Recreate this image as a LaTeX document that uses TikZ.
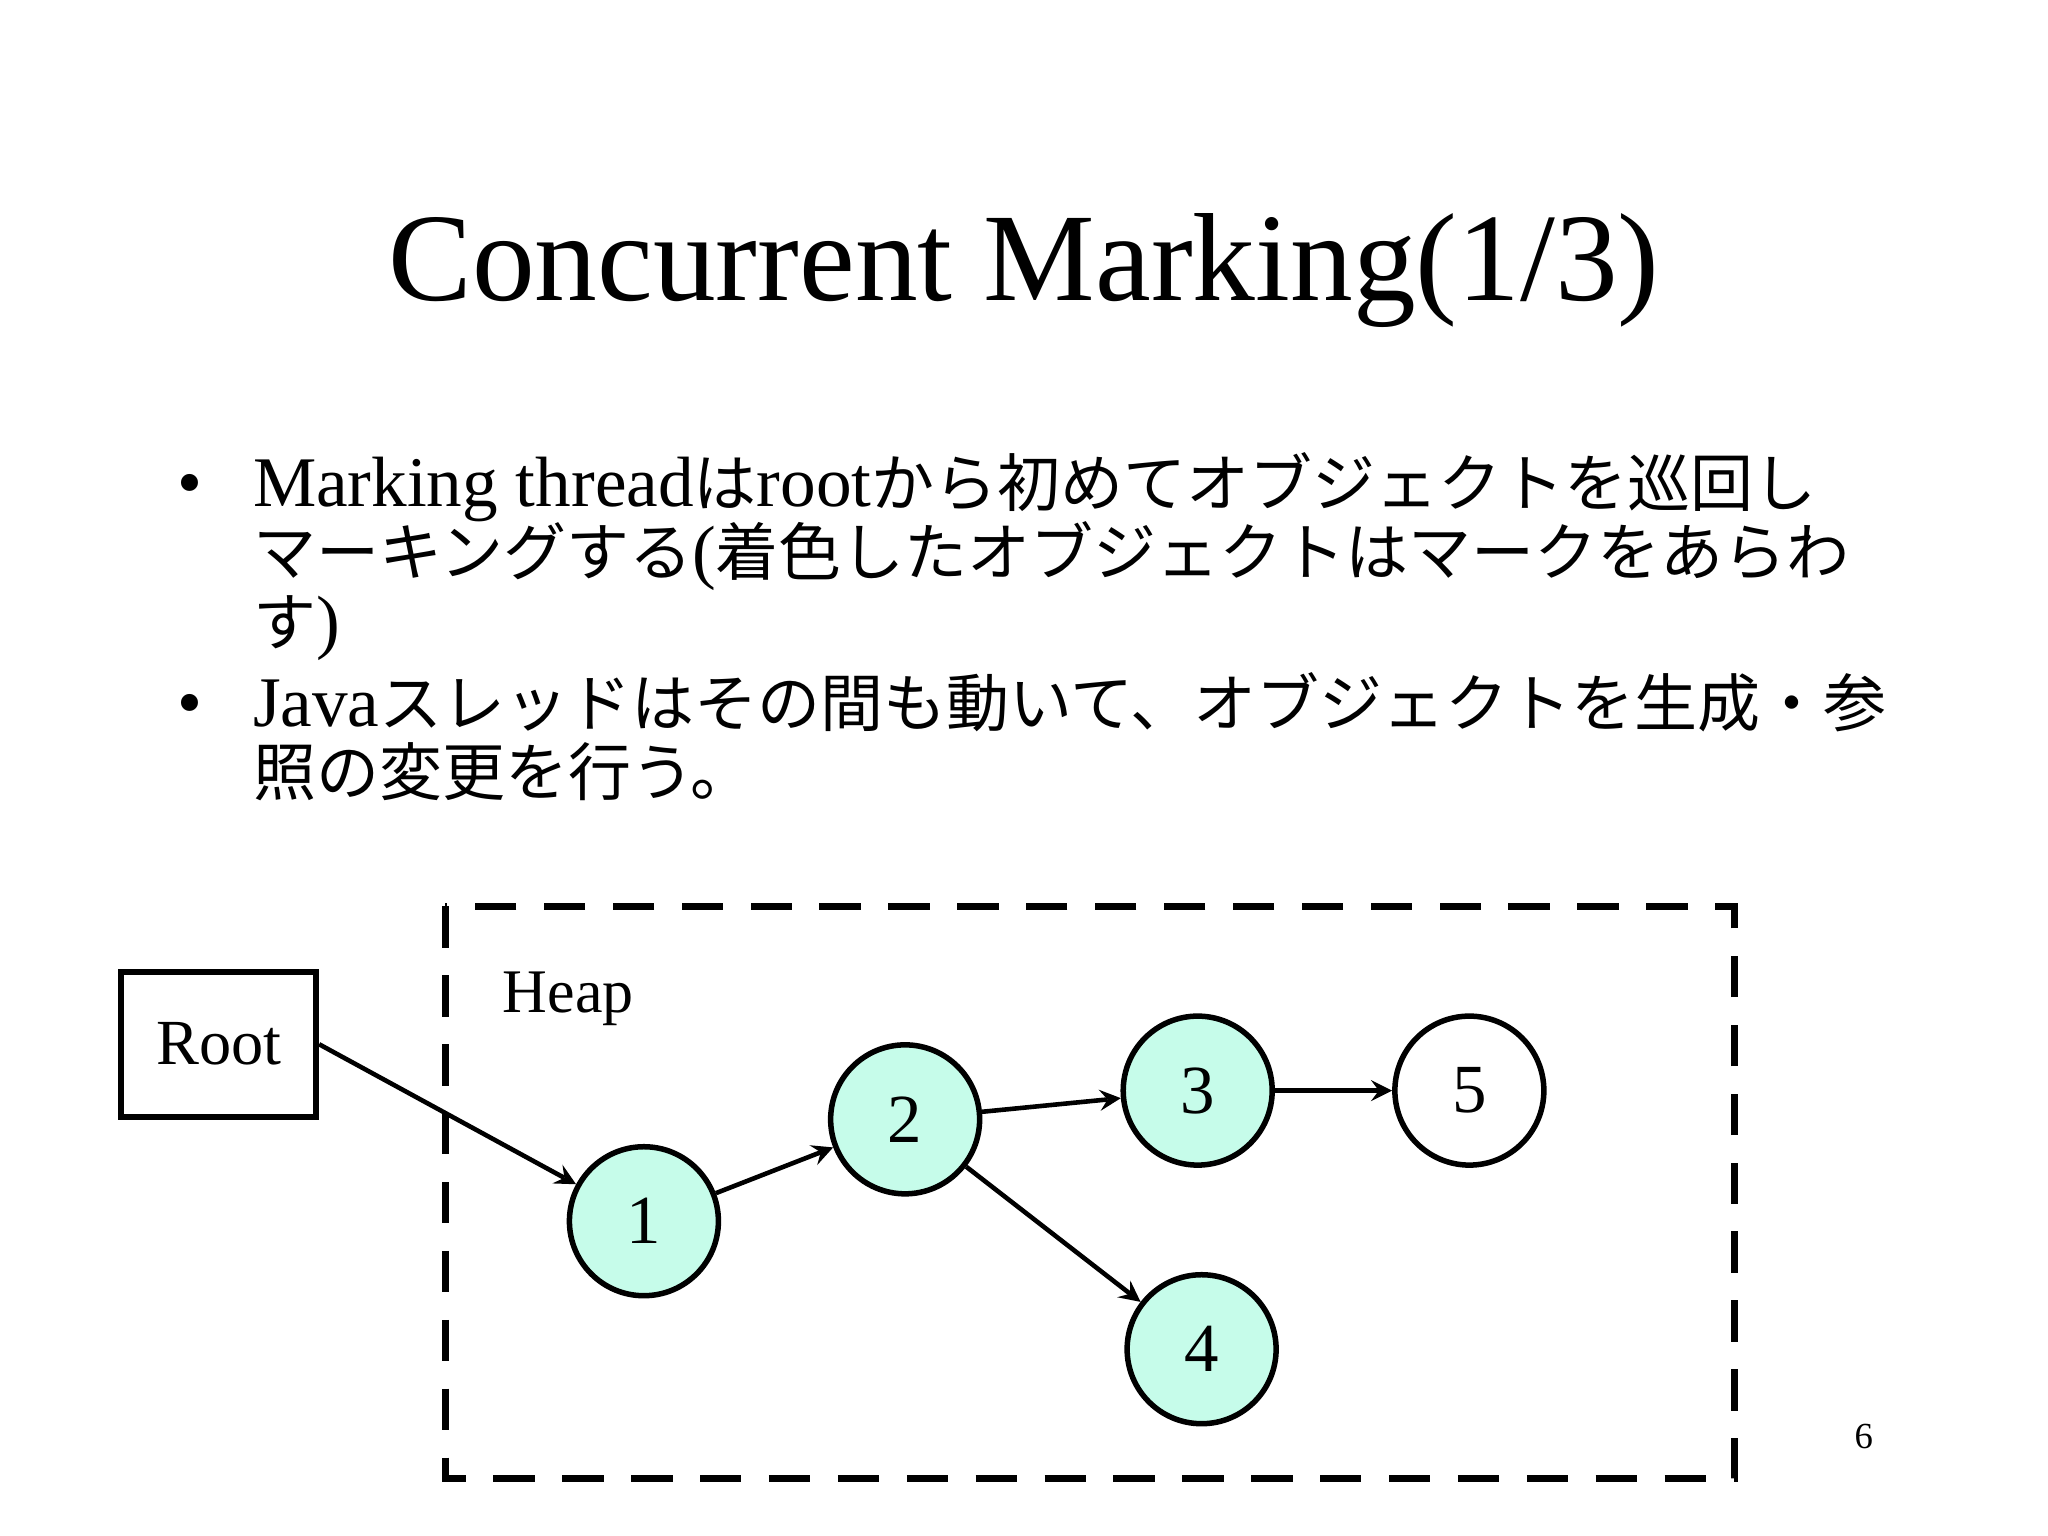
\documentclass[tikz,border=0pt]{standalone}
\usepackage{fontspec}
\setmainfont{Liberation Serif}
\newfontfamily\cjk[Scale=0.885]{Noto Sans CJK JP}
\newcommand{\jp}[1]{{\cjk #1}}
\definecolor{mint}{HTML}{C6FCEA}
\begin{document}
\begin{tikzpicture}[x=0.01cm,y=-0.01cm,
  obj/.style={circle,draw,line width=1.2pt,minimum size=1.14cm,inner sep=0pt,font=\fontsize{15}{15}\selectfont},
  arr/.style={->,>=stealth,line width=1pt},
  line/.style={anchor=base west,inner sep=0pt,font=\fontsize{15.5}{15.5}\selectfont}]
\useasboundingbox (0,0) rectangle (1568,1176);
\node[font=\fontsize{27.3}{27.3}\selectfont] (title) at (784,207) {Concurrent Marking(1/3)};
\node[line] (b1) at (135,388) {•};
\node[line] (l1) at (193,388) {Marking thread\jp{は}root\jp{から初めてオブジェクトを巡回し}};
\node[line] (l2) at (193,441) {\jp{マーキングする}(\jp{着色したオブジェクトはマークをあらわ}};
\node[line] (l3) at (193,494) {\jp{す})};
\node[line] (b2) at (135,556) {•};
\node[line] (l4) at (193,556) {Java\jp{スレッドはその間も動いて、オブジェクトを生成・参}};
\node[line] (l5) at (193,609) {\jp{照の変更を行う。}};
\draw[dashed,line width=1.4pt,dash pattern=on 9pt off 6pt] (341,694) rectangle (1328,1132);
\node[font=\fontsize{13.5}{13.5}\selectfont] (heap) at (435,765) {Heap};
\node[draw,line width=1.3pt,minimum width=1.49cm,minimum height=1.11cm,font=\fontsize{14}{14}\selectfont] (root) at (167.5,799.5) {Root};
\node[obj,fill=mint] (n1) at (493,935) {1};
\node[obj,fill=mint] (n2) at (693,857) {2};
\node[obj,fill=mint] (n3) at (917,835) {3};
\node[obj] (n5) at (1125,835) {5};
\node[obj,fill=mint] (n4) at (920,1033) {4};
\draw[arr] (root.east) -- (n1);
\draw[arr] (n1) -- (n2);
\draw[arr] (n2) -- (n3);
\draw[arr] (n3) -- (n5);
\draw[arr] (n2) -- (n4);
\node[font=\fontsize{8}{8}\selectfont] (pg) at (1427,1100) {6};
\end{tikzpicture}
\end{document}
